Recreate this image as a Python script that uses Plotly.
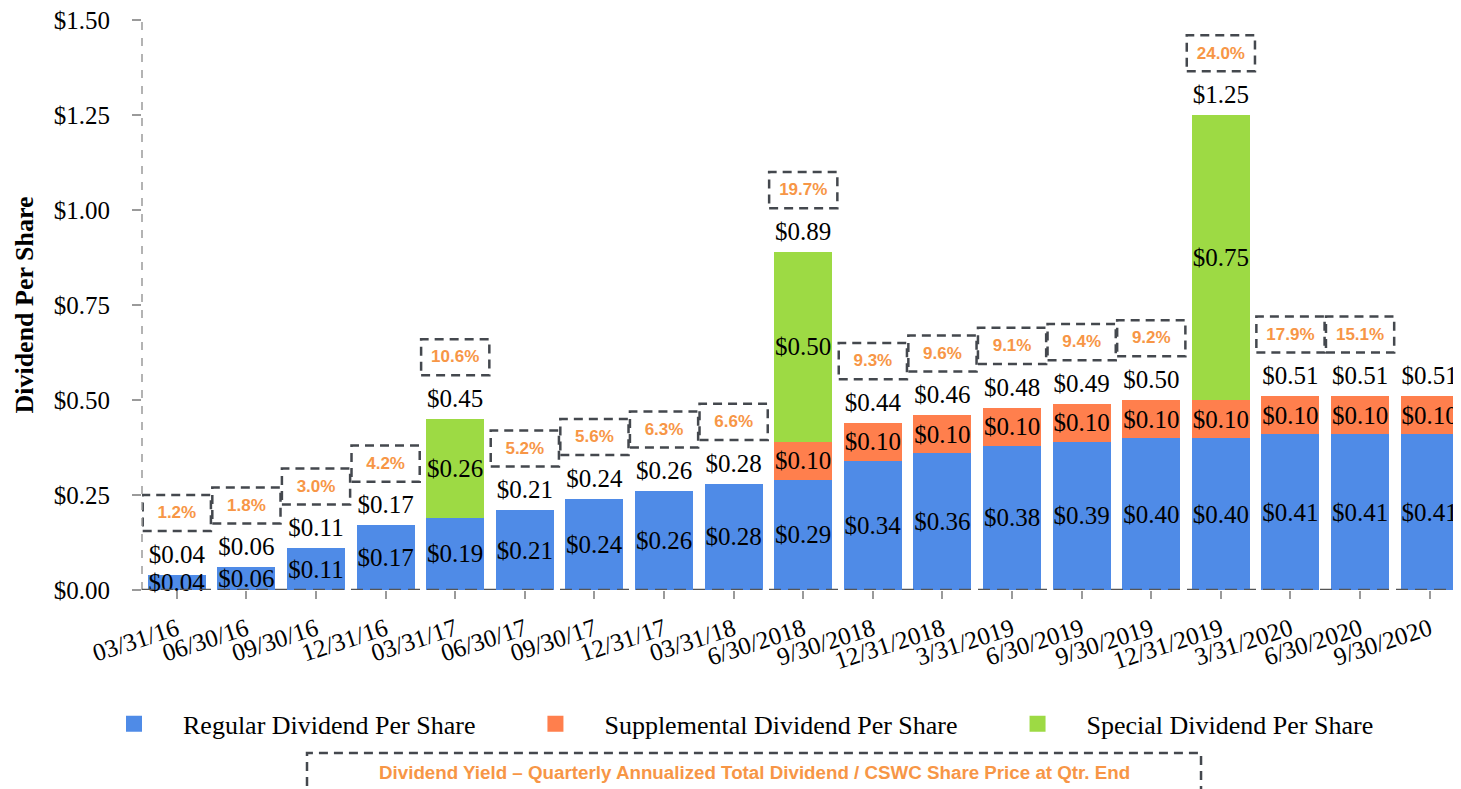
import plotly.graph_objects as go

categories = ["03/31/16", "06/30/16", "09/30/16", "12/31/16", "03/31/17", "06/30/17",
              "09/30/17", "12/31/17", "03/31/18", "6/30/2018", "9/30/2018", "12/31/2018",
              "3/31/2019", "6/30/2019", "9/30/2019", "12/31/2019", "3/31/2020", "6/30/2020",
              "9/30/2020"]
regular = [0.04, 0.06, 0.11, 0.17, 0.19, 0.21, 0.24, 0.26, 0.28, 0.29, 0.34, 0.36, 0.38,
           0.39, 0.40, 0.40, 0.41, 0.41, 0.41]
supplemental = [None, None, None, None, None, None, None, None, None, 0.10, 0.10, 0.10,
                0.10, 0.10, 0.10, 0.10, 0.10, 0.10, 0.10]
special = [None, None, None, None, 0.26, None, None, None, None, 0.50, None, None, None,
           None, None, 0.75, None, None, None]
yields = [1.2, 1.8, 3.0, 4.2, 10.6, 5.2, 5.6, 6.3, 6.6, 19.7, 9.3, 9.6, 9.1, 9.4, 9.2,
          24.0, 17.9, 15.1, None]
series_names = ["Regular Dividend Per Share", "Supplemental Dividend Per Share",
                "Special Dividend Per Share"]
y_ticks = [0, 0.25, 0.5, 0.75, 1.0, 1.25, 1.5]
y_tick_text = ["$0.00", "$0.25", "$0.50", "$0.75", "$1.00", "$1.25", "$1.50"]
note = "Dividend Yield \u2013 Quarterly Annualized Total Dividend / CSWC Share Price at Qtr. End"

BLUE = "#4F8BE7"
ORANGE = "#FF7F4D"
GREEN = "#9DDA44"
YIELD_C = "#F79646"
BOX_C = "#44484E"
SERIF = "Liberation Serif"
SANS = "Liberation Sans"
FS = 25

totals = [round(sum(v for v in vals if v is not None), 2)
          for vals in zip(regular, supplemental, special)]


def labels(vals):
    return ["" if v is None else f"${v:.2f}" for v in vals]


fig = go.Figure()
for vals, col in [(regular, BLUE), (supplemental, ORANGE), (special, GREEN)]:
    fig.add_trace(go.Bar(
        x=categories, y=vals, marker=dict(color=col, line=dict(width=0)),
        text=labels(vals), textposition="inside", insidetextanchor="middle",
        constraintext="none", textangle=0,
        insidetextfont=dict(family=SERIF, size=FS, color="black"),
        showlegend=False, hoverinfo="skip", cliponaxis=False))

# total labels above the bars
fig.add_trace(go.Scatter(
    x=categories, y=[t + 0.048 for t in totals], mode="text",
    text=[f"${t:.2f}" for t in totals], textposition="middle center",
    textfont=dict(family=SERIF, size=FS, color="black"),
    showlegend=False, hoverinfo="skip", cliponaxis=False))

# yield labels
yx = [c for c, y in zip(categories, yields) if y is not None]
yy = [t + 0.16 for t, y in zip(totals, yields) if y is not None]
fig.add_trace(go.Scatter(
    x=yx, y=yy, mode="text",
    text=[f"<b>{y:.1f}%</b>" for y in yields if y is not None], textposition="middle center",
    textfont=dict(family=SANS, size=17, color=YIELD_C),
    showlegend=False, hoverinfo="skip", cliponaxis=False))

# legend entries
pad = "\u00a0" * 4
for i, (name, col) in enumerate(zip(series_names, [BLUE, ORANGE, GREEN])):
    fig.add_trace(go.Scatter(
        x=[None], y=[None], mode="markers", name=name + (pad if i < 2 else ""),
        marker=dict(symbol="square", size=26, color=col), showlegend=True,
        hoverinfo="skip"))

shapes = []
for i, (t, y) in enumerate(zip(totals, yields)):
    if y is None:
        continue
    shapes.append(dict(type="rect", xref="x", yref="y", x0=i - 0.49, x1=i + 0.49,
                       y0=t + 0.115, y1=t + 0.21,
                       line=dict(color=BOX_C, width=2.5, dash="9px,6px"),
                       fillcolor="rgba(0,0,0,0)", layer="above"))
# axis lines (dashed)
shapes.append(dict(type="line", xref="paper", yref="y", x0=0, x1=0, y0=0, y1=1.5,
                   line=dict(color="#9A9A9A", width=1.5, dash="8px,8px"), layer="above"))
shapes.append(dict(type="line", xref="paper", yref="y", x0=0, x1=1, y0=0, y1=0,
                   line=dict(color="#555555", width=2.5, dash="12px,7px"), layer="above"))
# note box
shapes.append(dict(type="rect", xref="paper", yref="paper", x0=0.1251, x1=0.8029,
                   y0=-0.37, y1=-0.286,
                   line=dict(color=BOX_C, width=2.5, dash="9px,6px"),
                   fillcolor="rgba(0,0,0,0)"))

fig.update_layout(
    width=1453, height=781,
    margin=dict(l=134, r=0, t=12, b=199, autoexpand=False),
    paper_bgcolor="white", plot_bgcolor="white",
    font=dict(family=SERIF, size=FS, color="black"),
    barmode="stack", bargap=0.167,
    shapes=shapes,
    legend=dict(orientation="h", x=(85 - 142) / 1319, xanchor="left",
                y=-0.235, yanchor="middle", itemwidth=88,
                font=dict(family=SERIF, size=26, color="black"),
                bgcolor="rgba(0,0,0,0)", traceorder="normal"),
    annotations=[dict(text="<b>" + note + "</b>", xref="paper", yref="paper",
                      x=0.4644, y=-0.3193,
                      xanchor="center", yanchor="middle", showarrow=False,
                      font=dict(family=SANS, size=18.75, color=YIELD_C))],
    xaxis=dict(type="category", range=[-0.5, 18.45], showline=False, showgrid=False,
               zeroline=False, ticks="outside", ticklen=8, tickwidth=1.5,
               tickcolor="#9A9A9A", tickangle=-18, ticklabelstandoff=6,
               ticklabeloverflow="allow",
               tickfont=dict(family=SERIF, size=FS, color="black")),
    yaxis=dict(range=[0, 1.5002], tickmode="array", tickvals=y_ticks, ticktext=y_tick_text,
               showline=False, showgrid=False, zeroline=False, ticks="outside",
               ticklen=9, tickwidth=1.5, tickcolor="#9A9A9A", ticklabelstandoff=17,
               ticklabeloverflow="allow",
               tickfont=dict(family=SERIF, size=FS, color="black"),
               title=dict(text="<b>Dividend Per Share</b>", standoff=12,
                          font=dict(family=SERIF, size=26, color="black"))),
)

fig.write_html("out.html")
